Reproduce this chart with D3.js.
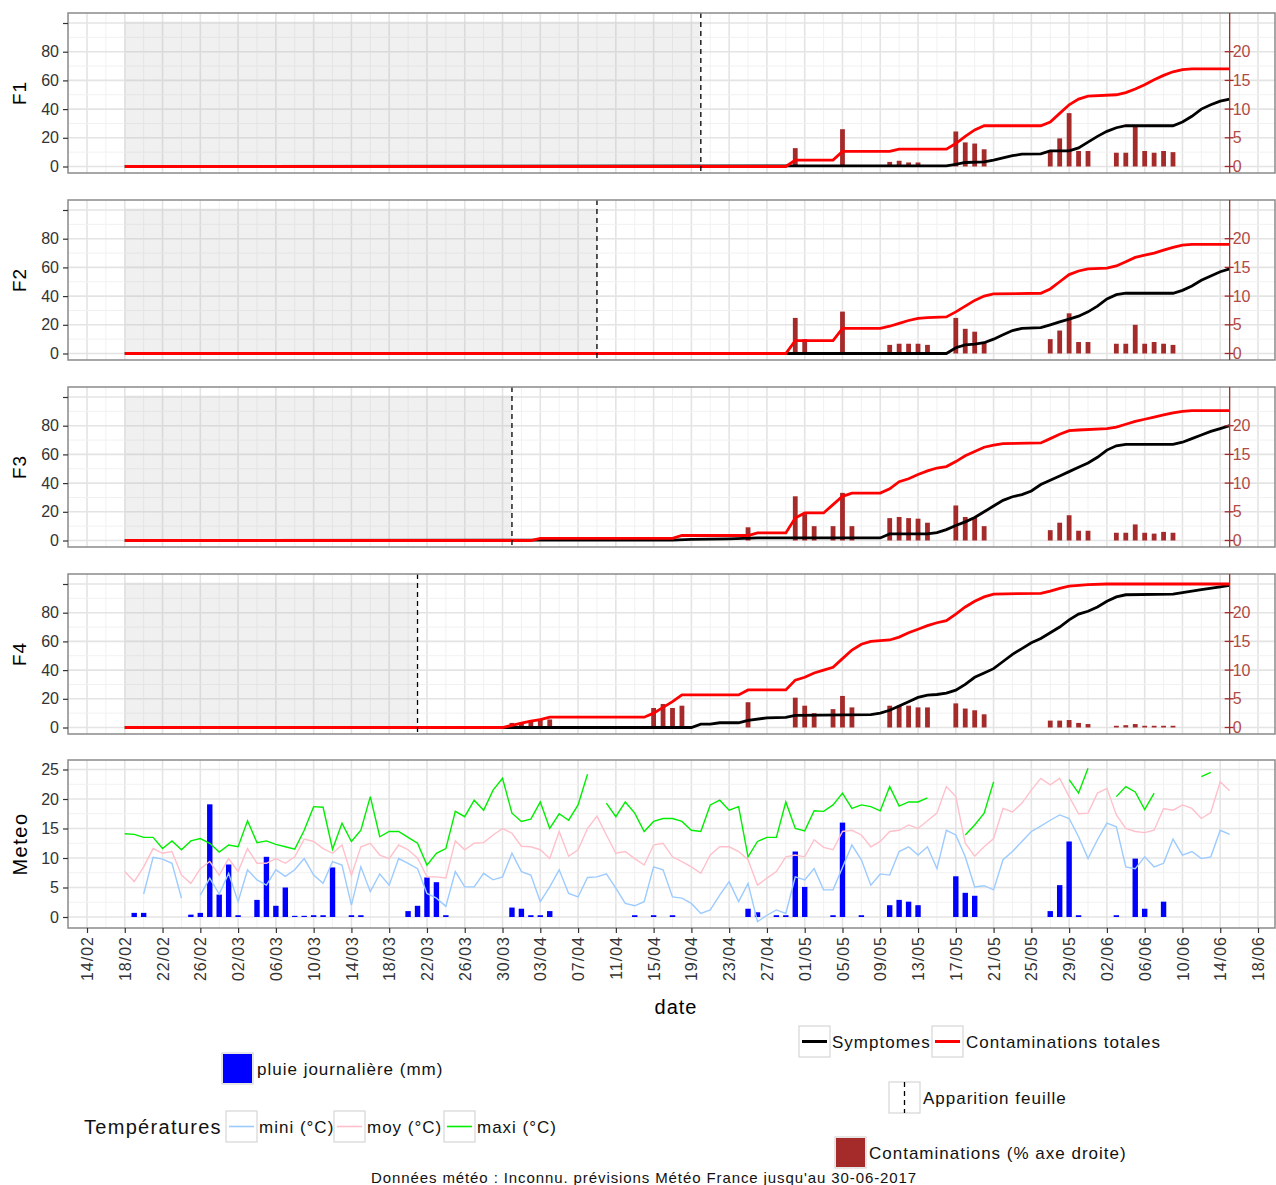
<!DOCTYPE html>
<html><head><meta charset="utf-8">
<script src="https://cdn.jsdelivr.net/npm/d3@7"></script>
<style>body{margin:0;background:#fff}svg{display:block}text{font-family:"Liberation Sans",Arial,sans-serif}</style>
</head><body><svg id="c" width="1276" height="1185"></svg>
<script>
// ---------------- DATA ----------------
const panelNames = ["F1","F2","F3","F4"];
const leafDates = ["04-20","04-09","03-31","03-21"];
const xTickLabels = ["14/02","18/02","22/02","26/02","02/03","06/03","10/03","14/03","18/03","22/03","26/03","30/03","03/04","07/04","11/04","15/04","19/04","23/04","27/04","01/05","05/05","09/05","13/05","17/05","21/05","25/05","29/05","02/06","06/06","10/06","14/06","18/06"];
const leftTicks = [0,20,40,60,80,100];
const rightTicks = [0,5,10,15,20];
const meteoTicks = [0,5,10,15,20,25];

const f1Contam = [["02-18",0],["04-29",0],["04-30",4.5],["05-04",4.5],["05-05",10.5],["05-10",10.5],["05-11",12.1],["05-16",12.1],["05-17",16],["05-18",21],["05-19",25.5],["05-20",28.4],["05-26",28.4],["05-27",31],["05-28",37],["05-29",43],["05-30",47],["05-31",49],["06-03",50],["06-04",51.5],["06-05",54],["06-06",57],["06-07",60.5],["06-08",63.5],["06-09",66],["06-10",67.5],["06-11",68],["06-15",68]];
const f1Sympt = [["02-18",0],["05-16",0.5],["05-17",1.5],["05-18",2.8],["05-20",3.2],["05-21",4.5],["05-22",6],["05-23",7.5],["05-24",8.6],["05-26",8.8],["05-27",10.9],["05-29",10.9],["05-30",13],["05-31",17],["06-01",21],["06-02",24.5],["06-03",27],["06-04",28.4],["06-09",28.4],["06-10",31],["06-11",35],["06-12",40],["06-13",43],["06-14",45.5],["06-15",47]];
const f1Bars = [["04-30",3.2],["05-05",6.5],["05-10",0.8],["05-11",1.0],["05-12",0.7],["05-13",0.7],["05-17",6.1],["05-18",4.2],["05-19",4.0],["05-20",3.0],["05-27",2.8],["05-28",4.9],["05-29",9.3],["05-30",2.7],["05-31",2.7],["06-03",2.4],["06-04",2.4],["06-05",7.0],["06-06",2.7],["06-07",2.4],["06-08",2.7],["06-09",2.5]];

const f2Contam = [["02-18",0],["04-29",0],["04-30",9],["05-04",9],["05-05",17.5],["05-09",17.5],["05-10",19],["05-11",21],["05-12",23],["05-13",24.5],["05-14",25],["05-16",25.5],["05-17",29],["05-18",33],["05-19",37],["05-20",40],["05-21",41.5],["05-26",42],["05-27",45],["05-28",50],["05-29",55],["05-30",57.5],["05-31",59],["06-02",59.5],["06-03",61],["06-04",64],["06-05",67],["06-06",68.5],["06-07",70],["06-08",72],["06-09",74],["06-10",75.5],["06-11",76],["06-15",76]];
const f2Sympt = [["02-18",0],["05-16",0],["05-17",4],["05-18",6],["05-19",6.5],["05-20",7.5],["05-21",10],["05-22",13],["05-23",16],["05-24",17.5],["05-26",18],["05-27",20],["05-28",22],["05-29",24],["05-30",26],["05-31",29],["06-01",33],["06-02",38],["06-03",41],["06-04",42],["06-09",42],["06-10",44],["06-11",47],["06-12",51],["06-13",54],["06-14",57],["06-15",59]];
const f2Bars = [["04-30",6.2],["05-01",2.5],["05-05",7.3],["05-10",1.5],["05-11",1.7],["05-12",1.7],["05-13",1.7],["05-14",1.5],["05-17",6.2],["05-18",4.3],["05-19",3.8],["05-20",2.0],["05-27",2.5],["05-28",4.0],["05-29",7.0],["05-30",2.0],["05-31",2.0],["06-03",1.7],["06-04",1.7],["06-05",5.0],["06-06",1.7],["06-07",2.0],["06-08",1.7],["06-09",1.5]];

const f3Contam = [["02-18",0],["04-02",0],["04-03",1.5],["04-17",1.5],["04-18",3.5],["04-25",3.5],["04-26",5.3],["04-29",5.3],["04-30",15.7],["05-01",19.2],["05-03",19.2],["05-04",25],["05-05",30.8],["05-06",33],["05-09",33],["05-10",36],["05-11",41],["05-12",43],["05-13",46],["05-14",48.5],["05-15",50.5],["05-16",51.5],["05-17",55],["05-18",59],["05-19",62],["05-20",65],["05-21",66.5],["05-22",67.5],["05-26",68],["05-27",71],["05-28",74],["05-29",76.5],["05-30",77],["06-02",78],["06-03",79],["06-04",81],["06-05",83],["06-06",84.5],["06-07",86],["06-08",87.5],["06-09",89],["06-10",90],["06-11",90.5],["06-15",90.5]];
const f3Sympt = [["02-18",0],["04-17",0.3],["04-19",0.8],["04-23",1.2],["04-26",1.8],["05-09",1.8],["05-10",4.6],["05-14",4.6],["05-15",5.5],["05-16",7.6],["05-17",10.5],["05-18",13],["05-19",16],["05-20",20],["05-21",24],["05-22",28],["05-23",30.5],["05-24",32],["05-25",34.5],["05-26",39],["05-27",42],["05-28",45],["05-29",48],["05-30",51],["05-31",54],["06-01",58],["06-02",63],["06-03",66],["06-04",67],["06-09",67],["06-10",68.5],["06-11",71],["06-12",73.5],["06-13",76],["06-14",78],["06-15",80]];
const f3Bars = [["04-25",2.3],["04-30",7.7],["05-01",4.6],["05-02",2.5],["05-04",2.5],["05-05",8.3],["05-06",2.5],["05-10",3.9],["05-11",4.1],["05-12",3.9],["05-13",3.8],["05-14",3.1],["05-17",6.1],["05-18",4.1],["05-19",4.0],["05-20",2.5],["05-27",1.8],["05-28",3.1],["05-29",4.4],["05-30",1.7],["05-31",1.7],["06-03",1.35],["06-04",1.35],["06-05",2.8],["06-06",1.35],["06-07",1.2],["06-08",1.5],["06-09",1.35]];

const f4Contam = [["02-18",0],["03-30",0],["03-31",1.5],["04-01",3],["04-02",4.5],["04-03",5.5],["04-04",7.2],["04-14",7.2],["04-15",10],["04-16",14],["04-17",18],["04-18",22.7],["04-24",22.7],["04-25",26.2],["04-29",26.2],["04-30",33],["05-01",35],["05-02",38],["05-03",40],["05-04",42],["05-05",48],["05-06",54],["05-07",58],["05-08",60],["05-09",60.5],["05-10",61],["05-11",63],["05-12",66],["05-13",68.5],["05-14",71],["05-15",73],["05-16",74.5],["05-17",79],["05-18",84],["05-19",88],["05-20",91],["05-21",93],["05-26",93.5],["05-27",95],["05-28",97],["05-29",98.5],["05-31",99.5],["06-02",100],["06-15",100]];
const f4Sympt = [["02-18",0],["04-19",0],["04-20",2.3],["04-21",2.3],["04-22",3.3],["04-24",3.3],["04-25",5],["04-27",6.7],["04-29",7],["04-30",8.5],["05-08",9],["05-09",10],["05-10",12],["05-11",15],["05-12",18],["05-13",21],["05-14",22.5],["05-15",23],["05-16",24],["05-17",26],["05-18",30],["05-19",35],["05-20",38],["05-21",41],["05-22",46],["05-23",51],["05-24",55],["05-25",59],["05-26",62],["05-27",66],["05-28",70],["05-29",75],["05-30",79],["05-31",81],["06-01",84],["06-02",88],["06-03",91],["06-04",92.5],["06-09",93],["06-10",94],["06-12",96],["06-14",98],["06-15",99]];
const f4Bars = [["03-31",0.8],["04-01",0.8],["04-02",1.2],["04-03",1.5],["04-04",1.4],["04-15",3.4],["04-16",4.1],["04-17",3.4],["04-18",3.8],["04-25",4.4],["04-30",5.2],["05-01",3.8],["05-02",2.5],["05-04",3.2],["05-05",5.5],["05-06",3.5],["05-10",3.8],["05-11",3.8],["05-12",3.8],["05-13",3.5],["05-14",3.5],["05-17",4.2],["05-18",3.3],["05-19",3.0],["05-20",2.3],["05-27",1.2],["05-28",1.2],["05-29",1.3],["05-30",0.8],["05-31",0.6],["06-03",0.3],["06-04",0.4],["06-05",0.6],["06-06",0.3],["06-07",0.3],["06-08",0.3],["06-09",0.3]];

const rainDaily = [["02-19",0.7],["02-20",0.7],["02-25",0.4],["02-26",0.7],["02-27",19.1],["02-28",3.8],["03-01",8.9],["03-02",0.3],["03-04",2.9],["03-05",10.2],["03-06",1.9],["03-07",5.0],["03-08",0.2],["03-09",0.2],["03-10",0.3],["03-11",0.3],["03-12",8.4],["03-14",0.3],["03-15",0.3],["03-20",1.0],["03-21",1.9],["03-22",6.7],["03-23",5.9],["03-24",0.3],["03-31",1.6],["04-01",1.4],["04-02",0.3],["04-03",0.3],["04-04",1.0],["04-13",0.3],["04-15",0.3],["04-17",0.3],["04-25",1.4],["04-26",0.8],["04-28",0.3],["04-29",0.3],["04-30",11.1],["05-01",5.1],["05-04",0.3],["05-05",16],["05-07",0.3],["05-10",2.0],["05-11",2.9],["05-12",2.6],["05-13",2.0],["05-17",6.9],["05-18",4.1],["05-19",3.6],["05-27",1.0],["05-28",5.4],["05-29",12.8],["05-30",0.3],["06-03",0.3],["06-05",9.9],["06-06",1.4],["06-08",2.6]];

// daily temperatures from 18/02 to 15/06 (null = missing)
const tempStart = "02-18";
const tMaxi = [14.1,14.0,13.5,13.5,11.6,12.9,11.4,12.9,13.3,12.5,11.0,12.2,11.9,16.3,12.6,12.9,12.3,11.9,11.5,14.7,18.7,18.6,11.5,15.9,12.8,14.7,20.4,13.6,14.5,14.5,13.5,12.5,8.8,10.8,11.6,17.9,17.0,19.8,18.1,21.5,23.5,17.6,16.2,16.6,19.5,15.0,17.5,16.4,19.0,24.2,null,19.3,17.0,19.5,17.6,14.5,16.2,16.7,16.7,16.2,14.7,14.5,19.0,19.8,18.1,18.7,10.2,12.8,13.5,13.5,19.5,15.0,14.6,18.0,17.9,19.0,21.0,18.4,19.0,18.7,18.0,22.1,18.8,19.5,19.5,20.2,null,null,null,13.9,15.6,17.6,22.9,null,null,null,null,null,null,null,23.3,21.0,25.2,null,null,20.4,22.1,21.2,18.2,21.0,null,null,null,null,23.8,24.5,null,null];
const tMoy = [7.7,6.0,8.5,11.6,10.8,11.1,7.1,5.7,8.2,9.4,7.1,9.9,7.7,11.6,9.1,9.1,9.9,9.1,10.2,13.2,12.8,11.6,10.8,12.2,7.1,11.9,12.5,10.5,9.9,12.2,11.4,10.0,6.8,6.8,6.6,12.9,11.4,12.5,12.6,13.9,15.0,14.2,12.0,11.9,11.4,9.9,14.5,10.3,11.4,15.0,17.1,13.9,10.8,11.1,9.9,8.8,12.2,12.5,10.2,9.4,8.5,7.4,10.5,11.9,11.9,11.1,9.7,5.4,6.6,7.7,10.2,10.5,10.2,13.1,11.8,11.4,14.5,14.7,13.9,11.9,12.8,14.5,14.7,15.6,15.0,16.3,17.6,22.1,20.4,12.5,10.3,11.9,13.3,18.4,17.8,19.3,21.5,23.5,22.4,23.5,20.4,17.5,17.6,21.0,21.8,17.3,15.0,14.5,14.3,14.7,18.4,18.1,19.0,18.4,16.7,17.7,22.9,21.4];
const tMini = [null,null,3.9,10.1,9.8,9.1,3.2,null,3.7,6.6,3.9,7.4,2.6,8.0,6.3,5.4,8.0,6.9,8.0,9.9,7.1,5.7,9.4,8.8,2.0,8.5,4.3,7.3,5.4,9.9,9.1,8.2,4.0,3.2,1.8,7.7,5.1,5.1,7.4,6.3,6.8,10.8,7.7,7.1,2.6,5.1,8.0,4.0,3.4,6.7,6.8,7.3,4.9,2.3,1.9,2.6,8.5,8.0,3.4,3.2,2.3,0.6,1.2,3.7,6.0,2.6,5.7,-0.8,0.3,1.2,0.6,6.8,6.3,8.2,4.6,4.6,8.4,12.2,9.7,5.4,7.3,7.1,11.1,11.9,10.5,11.9,8.2,14.7,13.9,10.2,5.1,5.3,4.6,9.7,11.1,12.8,14.5,15.4,16.4,17.3,16.7,13.6,9.9,13.1,15.9,15.3,8.5,8.2,10.2,8.5,9.1,13.2,10.5,11.1,9.9,10.2,14.7,14.0];

// ---------------- CHART ----------------
const parse = s => new Date(Date.UTC(2017, +s.slice(0,2)-1, +s.slice(3,5)));
const DAY = 86400000;
const svg = d3.select("#c");
const PL = 68, PR = 1275;
const x = d3.scaleUtc().domain([parse("02-14"), parse("06-18")]).range([87, 1258]);
const tickDates = xTickLabels.map(s => parse(s.slice(3,5)+"-"+s.slice(0,2)));
const minorDates = d3.range(-1, 32).map(i => new Date(parse("02-14").getTime() + (i*4+2)*DAY));

const C_MAJ = "#e4e4e4", C_MIN = "#f1f1f1", C_BORDER = "#8a8a8a", C_BROWN = "#a52a2a", C_RAX = "#b04a44";
const fs = 16;
const FONT = '"Liberation Sans",Arial,sans-serif';

function vgrid(g, top, bot) {
  g.selectAll(null).data(minorDates.filter(d => x(d) > PL && x(d) < PR)).enter().append("line")
    .attr("x1", d => x(d)).attr("x2", d => x(d)).attr("y1", top).attr("y2", bot)
    .attr("stroke", C_MIN).attr("stroke-width", 1);
  g.selectAll(null).data(tickDates.filter(d => x(d) > PL && x(d) < PR)).enter().append("line")
    .attr("x1", d => x(d)).attr("x2", d => x(d)).attr("y1", top).attr("y2", bot)
    .attr("stroke", C_MAJ).attr("stroke-width", 1.6);
}
function hgrid(g, y, majors, minors) {
  g.selectAll(null).data(minors).enter().append("line")
    .attr("x1", PL).attr("x2", PR).attr("y1", d => y(d)).attr("y2", d => y(d))
    .attr("stroke", C_MIN).attr("stroke-width", 1);
  g.selectAll(null).data(majors).enter().append("line")
    .attr("x1", PL).attr("x2", PR).attr("y1", d => y(d)).attr("y2", d => y(d))
    .attr("stroke", C_MAJ).attr("stroke-width", 1.6);
}
function leftAxis(g, y, ticks, fmt) {
  const ax = d3.axisLeft(y).tickValues(ticks).tickFormat(fmt).tickSize(5).tickPadding(4);
  const a = g.append("g").attr("transform", `translate(${PL},0)`).call(ax);
  a.select(".domain").remove();
  a.selectAll("line").attr("stroke", "#333").attr("stroke-width", 1.2);
  a.selectAll("text").attr("font-size", fs).attr("fill", "#333").style("font-family", FONT);
}

const fData = [
  {c: f1Contam, s: f1Sympt, b: f1Bars},
  {c: f2Contam, s: f2Sympt, b: f2Bars},
  {c: f3Contam, s: f3Sympt, b: f3Bars},
  {c: f4Contam, s: f4Sympt, b: f4Bars}
];
const panelTops = [13, 200, 387, 574];
const PH = 160;
const endDate = parse("06-15");

panelNames.forEach((name, i) => {
  const top = panelTops[i], bot = top + PH;
  const y = d3.scaleLinear().domain([0, 100]).range([top + 153.5, top + 10]);
  const yR = d3.scaleLinear().domain([0, 25]).range([top + 153.5, top + 10]);
  const g = svg.append("g");
  g.append("defs").append("clipPath").attr("id", "cp" + i).append("rect")
    .attr("x", PL).attr("y", top).attr("width", PR - PL).attr("height", PH);
  g.append("rect").attr("x", PL).attr("y", top).attr("width", PR - PL).attr("height", PH).attr("fill", "#fff");
  const inner = g.append("g").attr("clip-path", `url(#cp${i})`);
  vgrid(inner, top, bot);
  hgrid(inner, y, [0,20,40,60,80,100], [10,30,50,70,90]);
  inner.append("rect").attr("x", x(parse("02-18"))).attr("width", x(parse(leafDates[i])) - x(parse("02-18")))
    .attr("y", y(101)).attr("height", y(0) - y(101)).attr("fill", "#b4b4b4").attr("fill-opacity", 0.2);
  const d = fData[i];
  inner.selectAll(null).data(d.b).enter().append("rect")
    .attr("x", v => x(parse(v[0])) - 2.4).attr("width", 4.8)
    .attr("y", v => yR(v[1])).attr("height", v => yR(0) - yR(v[1]))
    .attr("fill", C_BROWN);
  const line = d3.line().x(v => x(parse(v[0]))).y(v => y(v[1]));
  inner.append("path").attr("d", line(d.s)).attr("fill", "none").attr("stroke", "#000").attr("stroke-width", 2.8);
  inner.append("path").attr("d", line(d.c)).attr("fill", "none").attr("stroke", "#ff0000").attr("stroke-width", 2.8);
  inner.append("line").attr("x1", x(parse(leafDates[i]))).attr("x2", x(parse(leafDates[i])))
    .attr("y1", top).attr("y2", bot).attr("stroke", "#000").attr("stroke-width", 1.3).attr("stroke-dasharray", "5,4");
  g.append("rect").attr("x", PL).attr("y", top).attr("width", PR - PL).attr("height", PH)
    .attr("fill", "none").attr("stroke", C_BORDER).attr("stroke-width", 1.5);
  leftAxis(g, y, leftTicks, v => v === 100 ? "" : v);
  const xe = x(endDate);
  g.append("line").attr("x1", xe).attr("x2", xe).attr("y1", top).attr("y2", bot).attr("stroke", C_BROWN).attr("stroke-width", 1.3);
  g.selectAll(null).data(rightTicks).enter().append("line")
    .attr("x1", xe - 5).attr("x2", xe + 4).attr("y1", v => yR(v)).attr("y2", v => yR(v)).attr("stroke", C_BROWN).attr("stroke-width", 1.3);
  g.selectAll(null).data(rightTicks).enter().append("text")
    .attr("x", xe + 3).attr("y", v => yR(v)).attr("dy", "0.35em").attr("font-size", fs).attr("fill", C_RAX).text(v => v);
  g.append("text").attr("transform", `translate(26,${top + 80}) rotate(-90)`).attr("text-anchor", "middle")
    .attr("font-size", 19).attr("letter-spacing", 1).attr("fill", "#000").text(name);
});

// ---- meteo panel ----
const mTop = 760, mBot = 928;
const ym = d3.scaleLinear().domain([0, 25]).range([917, 769.5]);
const gm = svg.append("g");
gm.append("defs").append("clipPath").attr("id", "cpm").append("rect").attr("x", PL).attr("y", mTop).attr("width", PR - PL).attr("height", mBot - mTop);
const im = gm.append("g").attr("clip-path", "url(#cpm)");
vgrid(im, mTop, mBot);
hgrid(im, ym, [0,5,10,15,20,25], [2.5,7.5,12.5,17.5,22.5]);
im.selectAll(null).data(rainDaily).enter().append("rect")
  .attr("x", v => x(parse(v[0])) - 2.7).attr("width", 5.4)
  .attr("y", v => ym(v[1])).attr("height", v => ym(0) - ym(v[1])).attr("fill", "#0000ff");
const t0 = parse(tempStart).getTime();
const tl = d3.line().defined(v => v != null).x((v, i) => x(new Date(t0 + i*DAY))).y(v => ym(v));
im.append("path").attr("d", tl(tMini)).attr("fill", "none").attr("stroke", "#9ccbff").attr("stroke-width", 1.4);
im.append("path").attr("d", tl(tMoy)).attr("fill", "none").attr("stroke", "#ffc0cb").attr("stroke-width", 1.4);
im.append("path").attr("d", tl(tMaxi)).attr("fill", "none").attr("stroke", "#00ee00").attr("stroke-width", 1.4);
gm.append("rect").attr("x", PL).attr("y", mTop).attr("width", PR - PL).attr("height", mBot - mTop)
  .attr("fill", "none").attr("stroke", C_BORDER).attr("stroke-width", 1.5);
leftAxis(gm, ym, meteoTicks, v => v);
gm.append("text").attr("transform", `translate(27,${(mTop + mBot)/2}) rotate(-90)`).attr("text-anchor", "middle")
  .attr("font-size", 20).attr("letter-spacing", 1.5).attr("fill", "#000").text("Meteo");

// x axis
const xa = svg.append("g").attr("transform", `translate(0,${mBot})`)
  .call(d3.axisBottom(x).tickValues(tickDates).tickFormat((d, i) => xTickLabels[i]).tickSize(5));
xa.select(".domain").remove();
xa.selectAll("line").attr("stroke", "#333").attr("stroke-width", 1.2);
xa.selectAll("text").attr("transform", "rotate(-90)").attr("text-anchor", "end")
  .attr("x", -8).attr("y", 0).attr("dy", "0.35em").attr("font-size", 16).attr("letter-spacing", 1).attr("fill", "#333")
  .style("font-family", FONT);
svg.append("text").attr("x", 676).attr("y", 1014).attr("text-anchor", "middle").attr("font-size", 20).attr("letter-spacing", 1).text("date");

// ---- legends ----
function keyBox(x0, y0) {
  return svg.append("rect").attr("x", x0).attr("y", y0).attr("width", 31).attr("height", 31)
    .attr("fill", "#fff").attr("stroke", "#d6d6d6").attr("stroke-width", 1.2);
}
function label(x0, yc, t, size, ls) {
  svg.append("text").attr("x", x0).attr("y", yc).attr("dy", "0.35em").attr("font-size", size || 17)
    .attr("letter-spacing", ls == null ? 1 : ls).attr("fill", "#111").text(t);
}
keyBox(799, 1026); svg.append("line").attr("x1", 802).attr("x2", 827).attr("y1", 1041.5).attr("y2", 1041.5).attr("stroke", "#000").attr("stroke-width", 3);
label(832, 1042, "Symptomes");
keyBox(932, 1026); svg.append("line").attr("x1", 935).attr("x2", 960).attr("y1", 1041.5).attr("y2", 1041.5).attr("stroke", "#ff0000").attr("stroke-width", 3);
label(966, 1042, "Contaminations totales");
keyBox(222, 1053); svg.append("rect").attr("x", 223).attr("y", 1054).attr("width", 29).attr("height", 29).attr("fill", "#0000ff");
label(257, 1069, "pluie journalière (mm)");
keyBox(889, 1082); svg.append("line").attr("x1", 904.5).attr("x2", 904.5).attr("y1", 1082).attr("y2", 1113).attr("stroke", "#000").attr("stroke-width", 1.3).attr("stroke-dasharray", "5,4");
label(923, 1098, "Apparition feuille");
label(84, 1127, "Températures", 20, 1.3);
const tKeys = [[226, "#9ccbff", "mini (°C)"], [334, "#ffc0cb", "moy (°C)"], [444, "#00ee00", "maxi (°C)"]];
tKeys.forEach(k => {
  keyBox(k[0], 1111);
  svg.append("line").attr("x1", k[0] + 3).attr("x2", k[0] + 28).attr("y1", 1126.5).attr("y2", 1126.5).attr("stroke", k[1]).attr("stroke-width", 1.6);
  label(k[0] + 33, 1127, k[2]);
});
keyBox(835, 1137); svg.append("rect").attr("x", 836).attr("y", 1138).attr("width", 29).attr("height", 29).attr("fill", C_BROWN);
label(869, 1153, "Contaminations (% axe droite)");
svg.append("text").attr("x", 371).attr("y", 1183).attr("font-size", 15).attr("letter-spacing", 0.9).attr("fill", "#111")
  .text("Données météo : Inconnu. prévisions Météo France jusqu'au 30-06-2017");
</script></body></html>
